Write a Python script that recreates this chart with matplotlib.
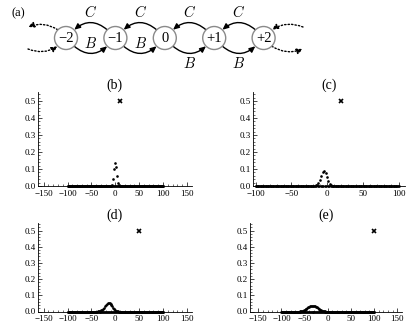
import numpy as np
import matplotlib
matplotlib.use("Agg")
import matplotlib.pyplot as plt
from matplotlib.patches import Circle, FancyArrowPatch

plt.rcParams['font.family'] = ['Liberation Serif', 'DejaVu Serif']
plt.rcParams['mathtext.fontset'] = 'cm'

# ---- data ----
states = ["\u22122", "\u22121", "0", "+1", "+2"]
sites = np.arange(-100, 101)          # lattice sites shown on every panel

b_pos = [-7, -5, -3, -1, 1, 3, 5, 7]
b_val = [0.006, 0.04, 0.10, 0.133, 0.11, 0.06, 0.016, 0.003]
b_cross = (10, 0.5)

c_pos = [-16, -14, -12, -10, -8, -6, -4, -2, 0, 2, 4, 6]
c_val = [0.003, 0.008, 0.018, 0.035, 0.06, 0.08, 0.088, 0.075, 0.05, 0.03, 0.012, 0.004]
c_cross = (20, 0.5)

d_pos = [-36, -34, -32, -30, -28, -26, -24, -22, -20, -18, -16, -14,
         -12, -10, -8, -6, -4, -2, 0, 2, 4, 6]
d_val = [0.001, 0.002, 0.004, 0.007, 0.011, 0.017, 0.024, 0.031, 0.038, 0.045, 0.050, 0.053,
         0.052, 0.048, 0.041, 0.033, 0.024, 0.016, 0.009, 0.005, 0.002, 0.001]
d_cross = (50, 0.5)

e_pos = [-60, -58, -56, -54, -52, -50, -48, -46, -44, -42, -40, -38, -36, -34,
         -32, -30, -28, -26, -24, -22, -20, -18, -16, -14, -12, -10, -8, -6]
e_val = [0.001, 0.002, 0.003, 0.005, 0.007, 0.010, 0.013, 0.017, 0.021, 0.025, 0.029, 0.032, 0.034, 0.035,
         0.035, 0.034, 0.032, 0.029, 0.025, 0.021, 0.017, 0.013, 0.010, 0.007, 0.005, 0.003, 0.002, 0.001]
e_cross = (100, 0.5)

W, H = 415, 333
fig = plt.figure(figsize=(W / 100, H / 100), dpi=100)


def px_axes(left, top, right, bottom):
    return fig.add_axes([left / W, 1 - bottom / H, (right - left) / W, (bottom - top) / H])


# ---- (a) rate diagram, drawn in pixel units ----
ax_a = fig.add_axes([0, 1 - 80 / H, 1, 80 / H])
ax_a.set_xlim(0, W)
ax_a.set_ylim(80, 0)
ax_a.axis('off')

x0, step, cy, r = 66, 49.4, 38, 11.5
cx = [x0 + step * i for i in range(len(states))]
for x, s in zip(cx, states):
    ax_a.add_patch(Circle((x, cy), r, fc='white', ec='#8a8a8a', lw=1.0, zorder=3))
    ax_a.text(x, cy + 0.5, s, ha='center', va='center', fontsize=10.5, zorder=4)

arrow_kw = dict(arrowstyle='-|>,head_length=3.5,head_width=1.6', color='black',
                lw=1.0, shrinkA=0, shrinkB=0, mutation_scale=1)
d = r * 0.72
for i in range(len(states) - 1):
    a, b = cx[i], cx[i + 1]
    # C: hop to the left, over the top
    ax_a.add_patch(FancyArrowPatch((b - d, cy - d), (a + d, cy - d),
                                   connectionstyle='arc3,rad=0.42', **arrow_kw))
    ax_a.text((a + b) / 2, 12, '$C$', ha='center', va='center', fontsize=10.5)
    # B: hop to the right, underneath
    ax_a.add_patch(FancyArrowPatch((a + d, cy + d), (b - d, cy + d),
                                   connectionstyle='arc3,rad=0.42', **arrow_kw))
    by = 43 if i < 2 else 63
    ax_a.text((a + b) / 2, by, '$B$', ha='center', va='center', fontsize=10.5)

dot_kw = dict(arrow_kw, linestyle=(0, (1, 1.5)))
ax_a.add_patch(FancyArrowPatch((cx[0] - d, cy - d), (28, 27),
                               connectionstyle='arc3,rad=0.25', **dot_kw))
ax_a.add_patch(FancyArrowPatch((28, 49), (cx[0] - d, cy + d),
                               connectionstyle='arc3,rad=0.25', **dot_kw))
ax_a.add_patch(FancyArrowPatch((303, 27), (cx[-1] + d, cy - d),
                               connectionstyle='arc3,rad=0.25', **dot_kw))
ax_a.add_patch(FancyArrowPatch((cx[-1] + d, cy + d), (303, 49),
                               connectionstyle='arc3,rad=0.25', **dot_kw))
ax_a.text(18, 13, '(a)', ha='center', va='center', fontsize=9)


# ---- (b)-(e) distributions ----
def panel(ax, title, pos, val, cross, xlim, xticks):
    p = np.zeros(len(sites))
    for x, v in zip(pos, val):
        p[sites == x] = v
    ax.plot(sites, p, 'o', ms=1.9, mec='none', color='black', clip_on=False, zorder=3)
    ax.plot(*cross, 'x', ms=3.5, mew=1.2, color='black', clip_on=False)
    ax.set_xlim(*xlim)
    ax.set_ylim(0, 0.55)
    for s in ['top', 'right']:
        ax.spines[s].set_visible(False)
    for s in ['left', 'bottom']:
        ax.spines[s].set_linewidth(0.6)
    ax.set_xticks(xticks)
    ax.set_xticks(np.arange(xticks[0], xticks[-1] + 1, 10), minor=True)
    ax.set_yticks([0, 0.1, 0.2, 0.3, 0.4, 0.5])
    ax.set_yticks(np.arange(0, 0.55, 0.02), minor=True)
    ax.set_yticklabels(['0.0', '0.1', '0.2', '0.3', '0.4', '0.5'])
    ax.tick_params(which='major', direction='in', length=3, width=0.5, labelsize=6.5)
    ax.tick_params(axis='x', which='major', pad=2.6)
    ax.tick_params(axis='y', which='major', pad=1.5)
    ax.tick_params(which='minor', direction='in', length=1.5, width=0.4)
    ax.set_title(title, fontsize=10, pad=1.5)


ticks150 = [-150, -100, -50, 0, 50, 100, 150]
ticks100 = [-100, -50, 0, 50, 100]

panel(px_axes(38, 92.5, 191.6, 186), '(b)', b_pos, b_val, b_cross, (-162, 160), ticks150)
panel(px_axes(253, 92.5, 405, 186), '(c)', c_pos, c_val, c_cross, (-103.5, 109), ticks100)
panel(px_axes(38, 222.5, 191.6, 311.5), '(d)', d_pos, d_val, d_cross, (-162, 160), ticks150)
panel(px_axes(250, 222.5, 401.9, 311.5), '(e)', e_pos, e_val, e_cross, (-168, 160), ticks150)

fig.savefig('out.png', dpi=100)
